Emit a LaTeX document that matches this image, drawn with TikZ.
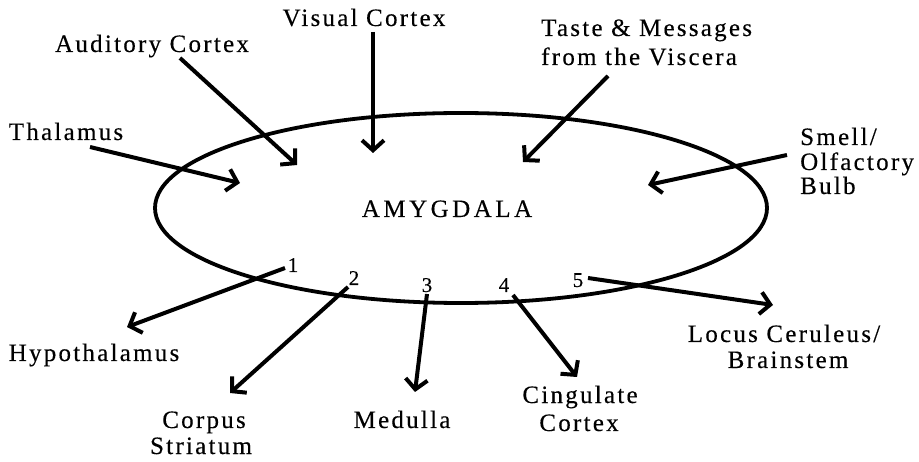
\documentclass[tikz,border=0pt]{standalone}
\usepackage{fontspec}
\setmainfont{Liberation Serif}[LetterSpace=9,FakeBold=0.3]
\newfontfamily\numfont{Liberation Serif}[FakeBold=0.3]
\newfontfamily\widefont{Liberation Serif}[LetterSpace=14,FakeBold=0.3]
\usetikzlibrary{arrows.meta}
\begin{document}
\begin{tikzpicture}[x=1pt,y=-1pt,
  lbl/.style={inner sep=0pt, anchor=base, font=\fontsize{25}{27}\selectfont},
  lblw/.style={lbl, anchor=base west},
  num/.style={inner sep=0pt, anchor=base, font=\numfont\fontsize{21}{23}\selectfont},
  conn/.style={line width=4pt, -{Straight Barb[length=10pt,width=22pt,line width=4pt]}},
  ring/.style={line width=3.8pt}]
\useasboundingbox (0,0) rectangle (919,462);
% ring
\draw[ring] (461,208) ellipse [x radius=306pt, y radius=95pt];
% labels
\node[lbl] (visual) at (364,26) {Visual Cortex};
\node[lbl] (auditory) at (152,52) {Auditory Cortex};
\node[lbl] (thalamus) at (66,140) {Thalamus};
\node[lblw] (taste1) at (541,36) {Taste \& Messages};
\node[lblw] (taste2) at (541,65) {from the Viscera};
\node[lblw] (smell1) at (800,145) {Smell/};
\node[lblw] (smell2) at (800,170) {Olfactory};
\node[lblw] (smell3) at (800,194) {Bulb};
\node[lbl, font=\widefont\fontsize{25}{27}\selectfont] (amygdala) at (447,217) {AMYGDALA};
\node[lbl] (hypo) at (94,361) {Hypothalamus};
\node[lbl] (corpus1) at (204,428) {Corpus};
\node[lbl] (corpus2) at (201,454) {Striatum};
\node[lbl] (medulla) at (402,428) {Medulla};
\node[lbl] (cing1) at (580,403) {Cingulate};
\node[lbl] (cing2) at (579,431) {Cortex};
\node[lbl] (locus1) at (784,342) {Locus Ceruleus/};
\node[lbl] (locus2) at (788,368) {Brainstem};
% numbers
\node[num] (n1) at (293,272) {1};
\node[num] (n2) at (354,285) {2};
\node[num] (n3) at (427,292) {3};
\node[num] (n4) at (504,292) {4};
\node[num] (n5) at (578,287) {5};
% connector ends
\coordinate (audS) at (180,58);   \coordinate (audT) at (297,165);
\coordinate (visS) at (373,32);   \coordinate (visT) at (373,153);
\coordinate (thalS) at (90,147);  \coordinate (thalT) at (240,183);
\coordinate (tasteS) at (608,76); \coordinate (tasteT) at (523,162);
\coordinate (smellS) at (787,155);\coordinate (smellT) at (648,185);
\coordinate (hypoS) at (285,268); \coordinate (hypoT) at (127,327);
\coordinate (corpS) at (348,287); \coordinate (corpT) at (230,393);
\coordinate (medS) at (427,294);  \coordinate (medT) at (415,392);
\coordinate (cingS) at (513,295); \coordinate (cingT) at (577,377);
\coordinate (locS) at (588,278);  \coordinate (locT) at (773,305);
% connectors
\draw[conn] (audS) -- (audT);
\draw[conn] (visS) -- (visT);
\draw[conn] (thalS) -- (thalT);
\draw[conn] (tasteS) -- (tasteT);
\draw[conn] (smellS) -- (smellT);
\draw[conn] (hypoS) -- (hypoT);
\draw[conn] (corpS) -- (corpT);
\draw[conn] (medS) -- (medT);
\draw[conn] (cingS) -- (cingT);
\draw[conn] (locS) -- (locT);
\end{tikzpicture}
\end{document}
